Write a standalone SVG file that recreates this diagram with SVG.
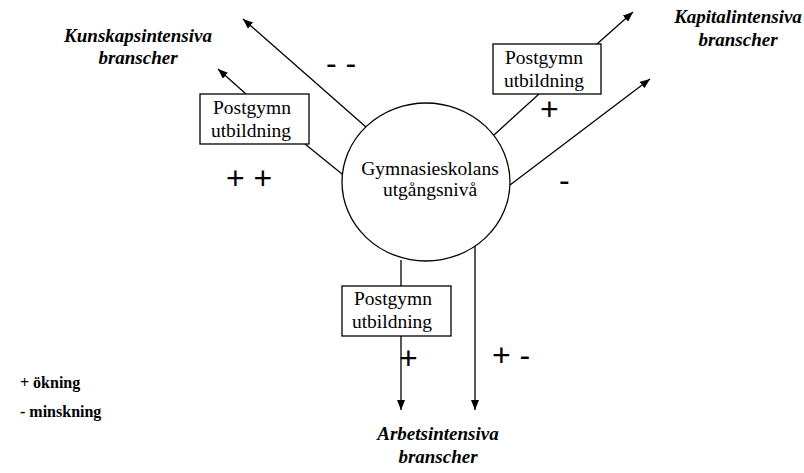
<svg xmlns="http://www.w3.org/2000/svg" width="804" height="473" viewBox="0 0 804 473">
<style>
.ln{stroke:#000;stroke-width:1.3;fill:none}
.arr{marker-end:url(#ah)}
.box{fill:#fff;stroke:#000;stroke-width:1.3}
.bt{font-family:'Liberation Serif','Times New Roman','DejaVu Serif',serif;font-size:19.5px;text-anchor:middle}
.hd{font-family:'Liberation Serif','Times New Roman','DejaVu Serif',serif;font-size:19px;font-weight:bold;font-style:italic;text-anchor:middle}
.sg{font-family:'Liberation Sans',Arial,sans-serif;font-size:32px}
.lg{font-family:'Liberation Serif','Times New Roman','DejaVu Serif',serif;font-size:16px;font-weight:bold}
</style>
<defs>
<marker id="ah" viewBox="0 0 10 8" refX="10" refY="4" markerWidth="10" markerHeight="8" markerUnits="userSpaceOnUse" orient="auto">
<path d="M0,0 L10,4 L0,8 z" fill="#000"/>
</marker>
</defs>
<rect width="804" height="473" fill="#fff"/>
<g id="connectors">
<line class="ln arr" x1="366" y1="127" x2="243" y2="19"/>
<line class="ln" x1="342" y1="174" x2="305" y2="144"/>
<line class="ln arr" x1="246" y1="94" x2="218" y2="69"/>
<line class="ln" x1="494" y1="135" x2="539" y2="94"/>
<line class="ln arr" x1="597" y1="44" x2="633" y2="12"/>
<line class="ln arr" x1="510" y1="185" x2="650" y2="79"/>
<line class="ln" x1="401" y1="260" x2="401" y2="286"/>
<line class="ln arr" x1="401" y1="336" x2="401" y2="410"/>
<line class="ln arr" x1="475" y1="244" x2="475" y2="410"/>
</g>
<g id="center">
<ellipse cx="426" cy="182" rx="84" ry="79" class="box"/>
<text class="bt" x="430" y="175">Gymnasieskolans</text>
<text class="bt" x="430" y="196">utgångsnivå</text>
</g>
<g id="box-left">
<rect x="200" y="94" width="109" height="50" class="box"/>
<text class="bt" x="252" y="114">Postgymn</text>
<text class="bt" x="251" y="137">utbildning</text>
</g>
<g id="box-right">
<rect x="493" y="44" width="108" height="50" class="box"/>
<text class="bt" x="544" y="64">Postgymn</text>
<text class="bt" x="544" y="87">utbildning</text>
</g>
<g id="box-bottom">
<rect x="342" y="286" width="109" height="50" class="box"/>
<text class="bt" x="393" y="305">Postgymn</text>
<text class="bt" x="392" y="328">utbildning</text>
</g>
<g id="kunskap">
<text class="hd" x="138" y="42">Kunskapsintensiva</text>
<text class="hd" x="138" y="64">branscher</text>
</g>
<g id="kapital">
<text class="hd" x="738" y="23">Kapitalintensiva</text>
<text class="hd" x="738" y="46">branscher</text>
</g>
<g id="arbets">
<text class="hd" x="438" y="440">Arbetsintensiva</text>
<text class="hd" x="438" y="463">branscher</text>
</g>
<g id="signs">
<text class="sg" x="326" y="74">- -</text>
<text class="sg" x="226" y="189">+ +</text>
<text class="sg" x="540" y="120">+</text>
<text class="sg" x="559" y="191">-</text>
<text class="sg" x="399" y="369">+</text>
<text class="sg" x="492" y="366">+ -</text>
</g>
<g id="legend">
<text class="lg" x="20" y="388">+ ökning</text>
<text class="lg" x="20" y="417">- minskning</text>
</g>
</svg>
